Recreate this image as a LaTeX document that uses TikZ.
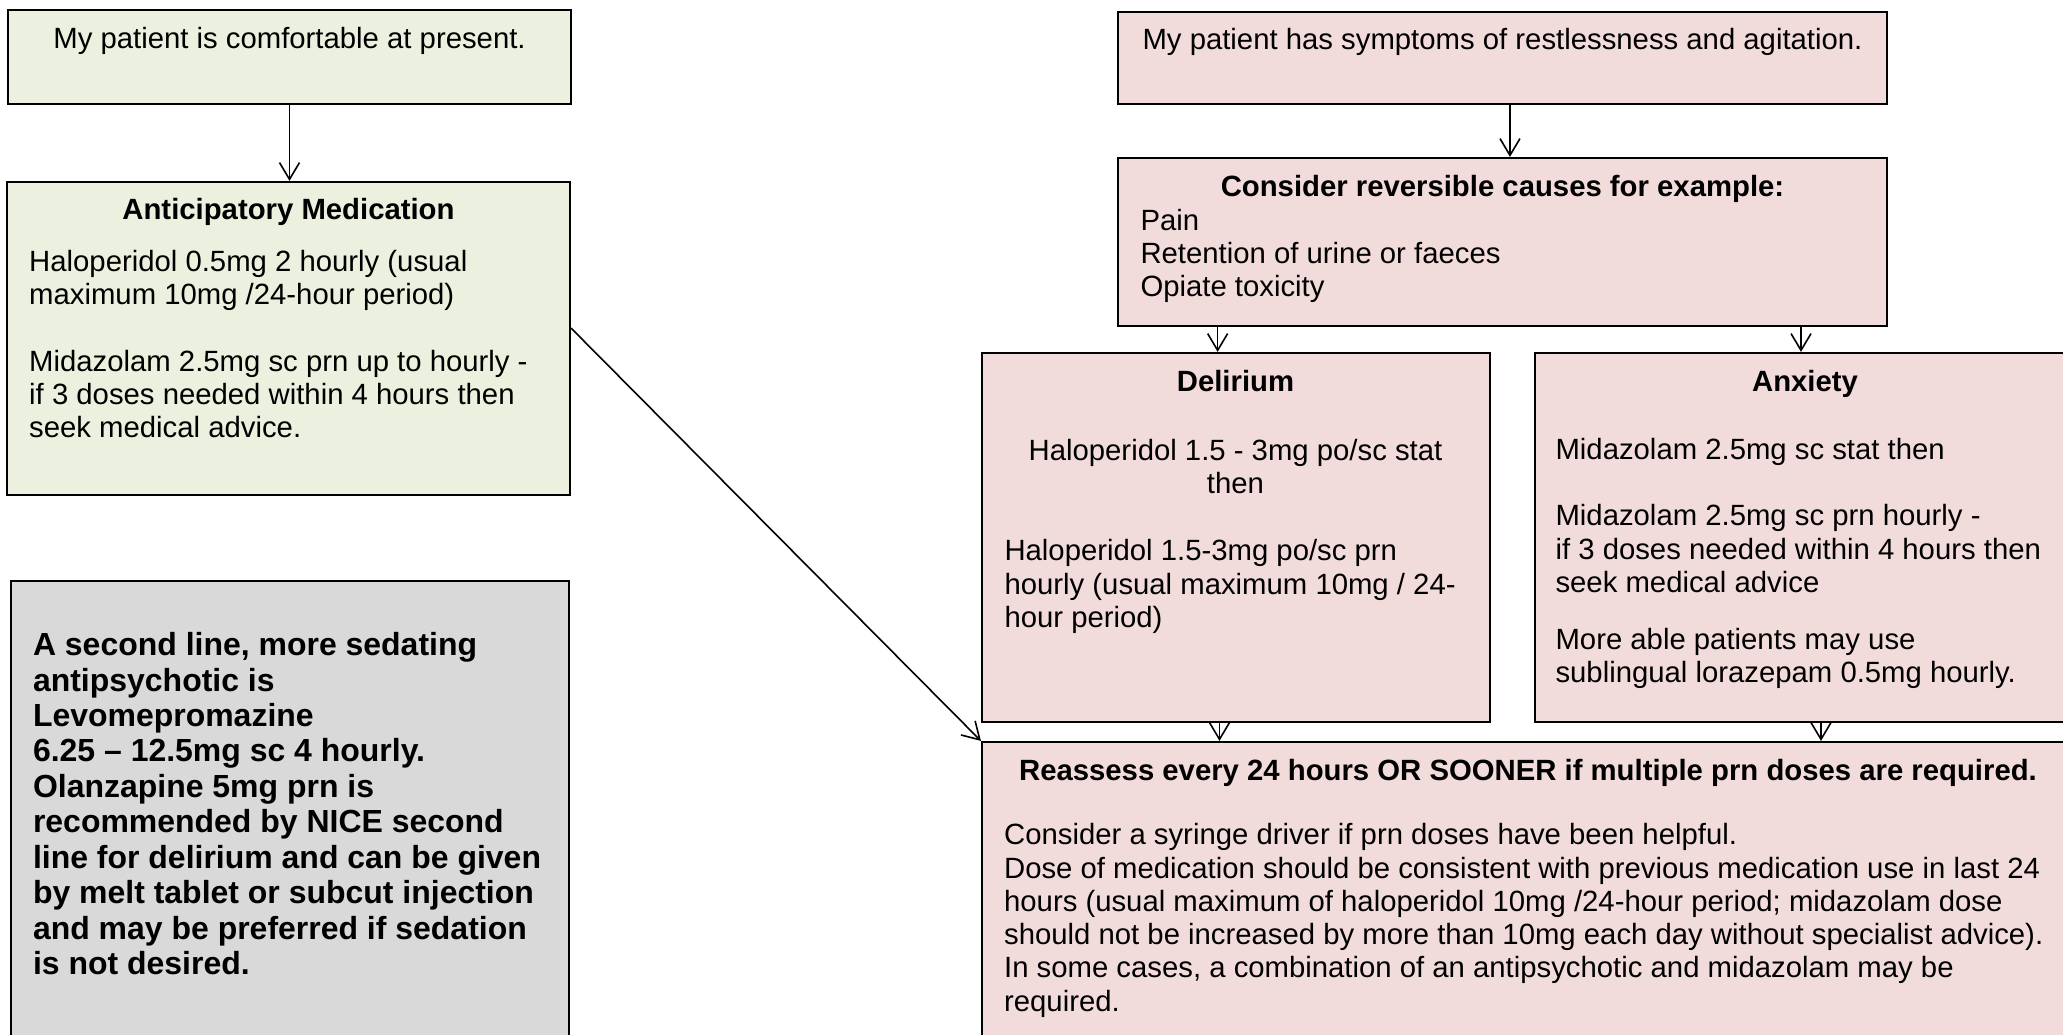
\documentclass[tikz,border=0pt]{standalone}
\usepackage{fontspec}
\setmainfont{Liberation Sans}
\usetikzlibrary{arrows.meta,fit}
\definecolor{calmgreen}{HTML}{EBF1DE}
\definecolor{alertpink}{HTML}{F2DCDB}
\definecolor{notegray}{HTML}{D9D9D9}
\begin{document}
\begin{tikzpicture}[x=0.3754pt,y=-0.3754pt,
		box/.style={draw, line width=0.8pt, inner sep=0pt},
		txt/.style={inner sep=0pt, font=\fontsize{11}{12.5}\selectfont},
		head/.style={inner sep=0pt, font=\fontsize{11}{12.5}\selectfont\bfseries},
		arr/.style={-{Straight Barb[length=6.3pt,width=7.5pt]}, line width=0.6pt}]
	\useasboundingbox (0,0) rectangle (2063,1035);
	\clip (0,0) rectangle (2063,1035);

	% Caixas
	\node[box, fill=calmgreen, fit={(8,10) (571,104)}] (comfort) {};		% Confortavel
	\node[box, fill=calmgreen, fit={(7,182) (570,495)}] (antic) {};			% Medicacao antecipada
	\node[box, fill=notegray, fit={(11,581) (569,1060)}] (note) {};			% Segunda linha
	\node[box, fill=alertpink, fit={(1118,12) (1887,104)}] (restless) {};	% Agitacao
	\node[box, fill=alertpink, fit={(1118,158) (1887,326)}] (causes) {};	% Causas reversiveis
	\node[box, fill=alertpink, fit={(982,353) (1490,722)}] (delirium) {};	% Delirium
	\node[box, fill=alertpink, fit={(1535,353) (2075,722)}] (anxiety) {};	% Ansiedade
	\node[box, fill=alertpink, fit={(982,742) (2075,1060)}] (reassess) {};	% Reavaliar

	% Textos
	\node[txt, anchor=base] (comfort-t) at (289.5,48.5) {My patient is comfortable at present.};
	\node[head, anchor=base] (antic-h) at (288.5,220) {Anticipatory Medication};
	\node[txt, anchor=north west, align=left] (antic-t) at (28.7,249.7)
		{Haloperidol 0.5mg 2 hourly (usual\\maximum 10mg /24-hour period)\\[12.5pt]Midazolam 2.5mg sc prn up to hourly -\\if 3 doses needed within 4 hours then\\seek medical advice.};
	\node[inner sep=0pt, font=\fontsize{12}{13.3}\selectfont\bfseries, anchor=north west, align=left] (note-t) at (32.5,632)
		{A second line, more sedating\\antipsychotic is\\Levomepromazine\\6.25 – 12.5mg sc 4 hourly.\\Olanzapine 5mg prn is\\recommended by NICE second\\line for delirium and can be given\\by melt tablet or subcut injection\\and may be preferred if sedation\\is not desired.};

	\node[txt, anchor=base] (restless-t) at (1502.5,49.5) {My patient has symptoms of restlessness and agitation.};
	\node[head, anchor=base] (causes-h) at (1502.5,196.7) {Consider reversible causes for example:};
	\node[txt, anchor=north west, align=left] (causes-t) at (1140,208.3)
		{Pain\\Retention of urine or faeces\\Opiate toxicity};

	\node[head, anchor=base] (delirium-h) at (1235.5,391.7) {Delirium};
	\node[txt, anchor=north, align=center] (delirium-s) at (1235.5,438.3)
		{Haloperidol 1.5 - 3mg po/sc stat\\then};
	\node[txt, anchor=north west, align=left] (delirium-t) at (1004,539)
		{Haloperidol 1.5-3mg po/sc prn\\hourly (usual maximum 10mg / 24-\\hour period)};

	\node[head, anchor=base] (anxiety-h) at (1805,391.7) {Anxiety};
	\node[txt, anchor=north west, align=left] (anxiety-t) at (1555,437.5)
		{Midazolam 2.5mg sc stat then\\[12.5pt]Midazolam 2.5mg sc prn hourly -\\if 3 doses needed within 4 hours then\\seek medical advice\\[8.75pt]More able patients may use\\sublingual lorazepam 0.5mg hourly.};

	\node[head, anchor=base] (reassess-h) at (1528,781) {Reassess every 24 hours OR SOONER if multiple prn doses are required.};
	\node[txt, anchor=north west, align=left] (reassess-t) at (1003.6,823)
		{Consider a syringe driver if prn doses have been helpful.\\Dose of medication should be consistent with previous medication use in last 24\\hours (usual maximum of haloperidol 10mg /24-hour period; midazolam dose\\should not be increased by more than 10mg each day without specialist advice).\\In some cases, a combination of an antipsychotic and midazolam may be\\required.};

	% Setas
	\draw[arr] (comfort.south) -- (comfort.south |- antic.north);
	\draw[arr] ([xshift=2.8pt]restless.south) -- ([xshift=2.8pt]causes.north);
	\draw[arr] ([xshift=-6.9pt]delirium.north |- causes.south) -- ([xshift=-6.9pt]delirium.north);
	\draw[arr] ([xshift=-1.5pt]anxiety.north |- causes.south) -- ([xshift=-1.5pt]anxiety.north);
	\draw[arr] ([xshift=-6.2pt]delirium.south) -- ([xshift=-6.2pt]delirium.south |- reassess.north);
	\draw[arr] ([xshift=6pt]anxiety.south) -- ([xshift=6pt]anxiety.south |- reassess.north);
	\draw[arr] ([yshift=3.9pt]antic.east) -- (reassess.north west);
\end{tikzpicture}
\end{document}
